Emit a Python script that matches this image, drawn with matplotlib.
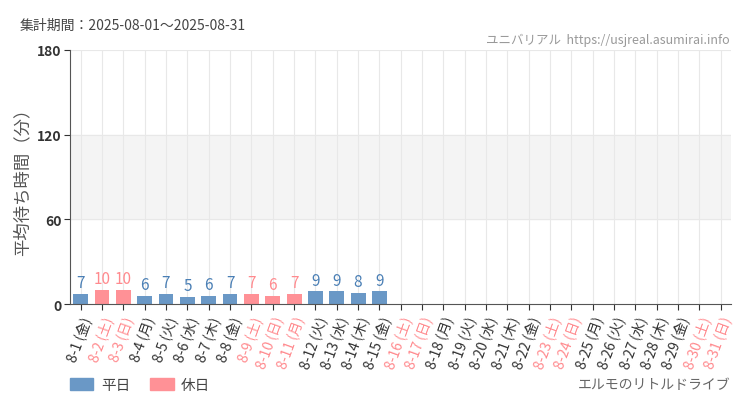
import numpy as np
import matplotlib.pyplot as plt
from matplotlib.patches import Patch

plt.rcParams['font.family'] = ['Noto Sans CJK JP', 'DejaVu Sans']

# データ
days = [f"8-{d}" for d in range(1, 32)]
weekdays = ['金', '土', '日', '月', '火', '水', '木', '金', '土', '日', '月', '火', '水', '木', '金',
            '土', '日', '月', '火', '水', '木', '金', '土', '日', '月', '火', '水', '木', '金', '土', '日']
holiday = [False, True, True, False, False, False, False, False, True, True, True, False, False, False, False,
           True, True, False, False, False, False, False, True, True, False, False, False, False, False, True, True]
waits = [7, 10, 10, 6, 7, 5, 6, 7, 7, 6, 7, 9, 9, 8, 9]

blue = '#6a98c6'
pink = '#ff9196'
pink_txt = '#ff8a8e'

fig = plt.figure(figsize=(7.5, 4.1), dpi=100)
ax = fig.add_axes([0.0933, 0.256, 0.882, 0.62])

x = np.arange(len(days))
ax.axhspan(60, 120, color='#f4f4f4', zorder=0)
for xi in x:
    ax.axvline(xi, color='#e8e8e8', lw=0.8, zorder=0.5)
for yv in [60, 120, 180]:
    ax.axhline(yv, color='#e8e8e8', lw=0.8, zorder=0.5)

for i, v in enumerate(waits):
    c = pink if holiday[i] else blue
    ax.bar(i, v, width=0.7, color=c, zorder=2)
    ax.text(i, v + 2, str(v), ha='center', va='bottom', fontsize=11,
            color=pink_txt if holiday[i] else '#4a7fb5', zorder=3)

ax.set_xlim(-0.5, len(days) - 0.5)
ax.set_ylim(0, 180)
ax.set_yticks([0, 60, 120, 180])
ax.tick_params(axis='y', labelsize=10, colors='#333333', length=4, pad=2)
ax.tick_params(axis='x', length=4, colors='#333333')
ax.set_xticks(x)
labels = [f"{d} ({w})" for d, w in zip(days, weekdays)]
ax.set_xticklabels(labels, rotation=70, ha='right', va='top', fontsize=10,
                   rotation_mode='anchor')
for lab, h in zip(ax.get_xticklabels(), holiday):
    lab.set_color(pink_txt if h else '#333333')
for lab in ax.get_yticklabels():
    lab.set_fontweight('bold')

for s in ['top', 'right']:
    ax.spines[s].set_visible(False)
ax.spines['left'].set_color('#555555')
ax.spines['bottom'].set_color('#555555')
ax.set_ylabel('平均待ち時間（分）', fontsize=12.5, color='#555555')
ax.yaxis.set_label_coords(-0.058, 0.5)

fig.text(20 / 750, 1 - 26 / 410, '集計期間：2025-08-01～2025-08-31', fontsize=10,
         color='#444444', va='center')
fig.text(730 / 750, 1 - 40 / 410, 'ユニバリアル  https://usjreal.asumirai.info', fontsize=9,
         color='#999999', ha='right', va='center')
fig.text(730 / 750, 1 - 385 / 410, 'エルモのリトルドライブ', fontsize=10,
         color='#666666', ha='right', va='center')

handles = [Patch(color=blue, label='平日'), Patch(color=pink, label='休日')]
fig.legend(handles=handles, loc='center left', bbox_to_anchor=(57 / 750, 1 - 386 / 410),
           ncol=2, frameon=False, fontsize=10.5, handlelength=1.6, handleheight=0.8,
           columnspacing=1.4, handletextpad=0.5, labelcolor='#444444')

fig.savefig('out.png', dpi=100)
